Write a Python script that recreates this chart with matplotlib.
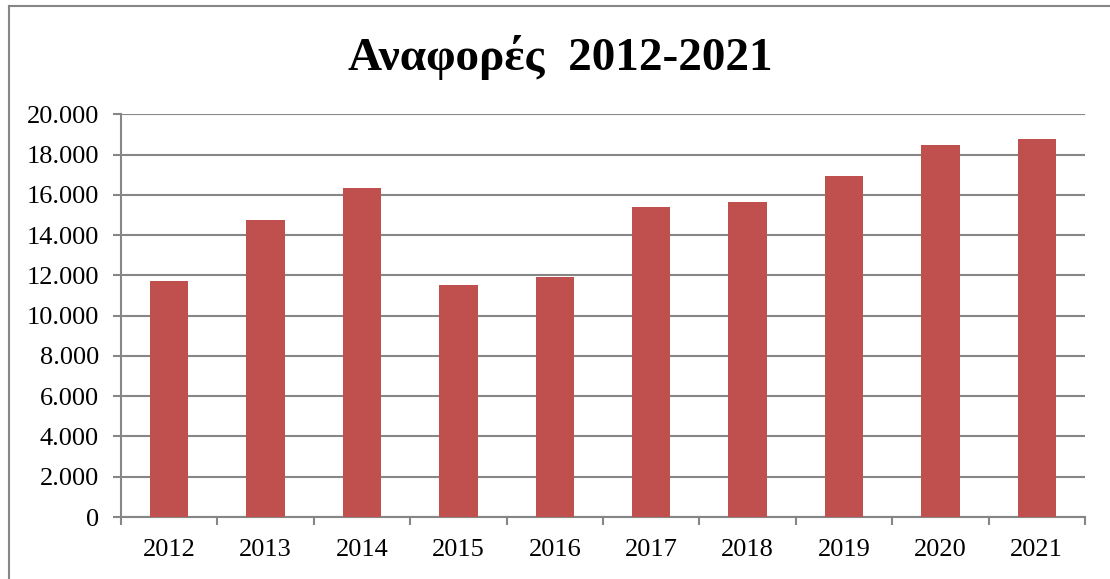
import matplotlib
matplotlib.use("Agg")
from matplotlib import pyplot as plt
from matplotlib.lines import Line2D
from matplotlib.ticker import FuncFormatter, FixedLocator

years = ["2012", "2013", "2014", "2015", "2016", "2017", "2018", "2019", "2020", "2021"]
reports = [11700, 14740, 16330, 11520, 11910, 15410, 15630, 16950, 18470, 18790]
title = "Αναφορές  2012-2021"

bar_color = "#C0504D"
grid_color = "#868686"

plt.rcParams['font.family'] = ['Liberation Serif', 'DejaVu Serif']

fig = plt.figure(figsize=(11.1, 5.79), dpi=100)
ax = fig.add_axes([121/1110, 62/579, (1085-121)/1110, (517-114.3)/579])

x = list(range(len(years)))
ax.bar(x, reports, width=0.4, color=bar_color, zorder=3)

ax.set_xlim(-0.5, len(years) - 0.5)
ax.set_ylim(0, 20000)
ax.set_yticks(range(0, 20001, 2000))
ax.yaxis.set_major_formatter(FuncFormatter(lambda v, p: f"{int(v):,}".replace(",", ".")))
ax.set_xticks(x)
ax.set_xticklabels(years)
ax.xaxis.set_minor_locator(FixedLocator([i - 0.5 for i in range(len(years) + 1)]))
ax.tick_params(axis='x', which='major', length=0, labelsize=19, pad=16)
ax.tick_params(axis='x', which='minor', length=6, width=1.5, color=grid_color, direction='out')
ax.tick_params(axis='y', length=6, width=1.5, color=grid_color, labelsize=19, pad=10)

ax.grid(axis='y', color=grid_color, linewidth=1.5, zorder=0)
for s in ['top', 'right']:
    ax.spines[s].set_visible(False)
for s in ['left', 'bottom']:
    ax.spines[s].set_color(grid_color)
    ax.spines[s].set_linewidth(1.5)

fig.text(560/1110, 1 - 57/579, title, ha='center', va='center',
         fontsize=34, fontweight='bold')

# outer chart border (cut off at right and bottom)
fig.add_artist(Line2D([8.5/1110, 8.5/1110], [0, 1 - 6/579], color=grid_color, lw=1.5))
fig.add_artist(Line2D([8.5/1110, 1], [1 - 6/579, 1 - 6/579], color=grid_color, lw=1.5))

fig.savefig("out.png", dpi=100)
